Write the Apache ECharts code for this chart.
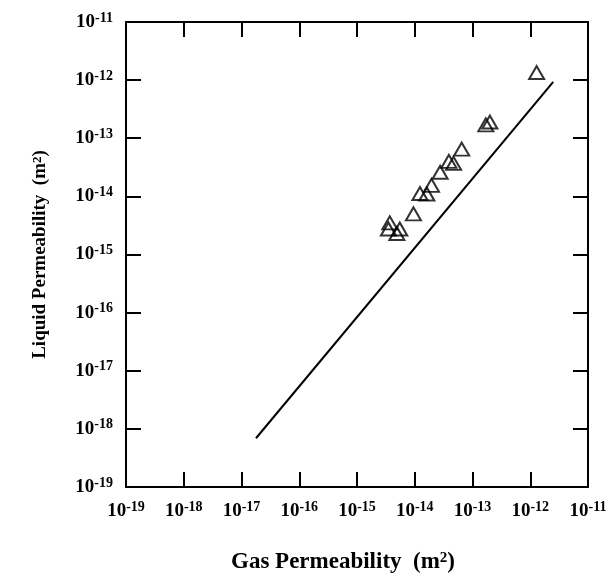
<!DOCTYPE html>
<html>
<head>
<meta charset="utf-8">
<script src="https://cdn.jsdelivr.net/npm/echarts@6/dist/echarts.min.js"></script>
<style>
  html, body { margin: 0; padding: 0; background: #ffffff; }
  #chart { width: 606px; height: 575px; }
</style>
</head>
<body>
<div id="chart"></div>
<script>
// measured points (m^2)
const gasPerm = [1.29e-12, 2.0e-13, 1.7e-13, 6.5e-14, 3.9e-14, 4.7e-14, 2.75e-14, 1.95e-14,
                 1.23e-14, 1.62e-14, 9.5e-15, 3.7e-15, 3.5e-15, 5.5e-15, 4.9e-15];
const liquidPerm = [1.35e-12, 1.9e-13, 1.7e-13, 6.5e-14, 4.0e-14, 3.7e-14, 2.6e-14, 1.55e-14,
                    1.12e-14, 1.1e-14, 5.0e-15, 3.5e-15, 2.75e-15, 2.75e-15, 2.3e-15];
// fitted line end points
const lineGas = [1.78e-17, 2.5e-12];
const lineLiquid = [6.9e-19, 9.3e-13];
// axis range (decades)
const axisMin = 1e-19;
const axisMax = 1e-11;

const serif = 'Liberation Serif';

const myChart = echarts.init(document.getElementById('chart'));

// 10 with superscript exponent
const powLabel = v => '{b|10}{s|' + Math.round(Math.log10(v)) + '}';
const labelRich = {
    b: { fontFamily: serif, fontSize: 19, fontWeight: 'bold', color: '#000', lineHeight: 22 },
    s: { fontFamily: serif, fontSize: 14, fontWeight: 'bold', color: '#000', verticalAlign: 'top', lineHeight: 15 }
};

const frameAxis = {
    type: 'log',
    logBase: 10,
    min: axisMin,
    max: axisMax,
    interval: 1,
    axisLine: { show: true, lineStyle: { color: '#000', width: 2 } },
    axisTick: { show: true, inside: true, length: 15, lineStyle: { color: '#000', width: 2 } },
    splitLine: { show: false },
    minorTick: { show: false }
};

const option = {
    backgroundColor: '#ffffff',
    animation: false,
    grid: { left: 126, right: 18, top: 22, bottom: 88, outerBoundsMode: 'none', containLabel: false },
    xAxis: [
        Object.assign({}, frameAxis, {
            position: 'bottom',
            axisLabel: { formatter: powLabel, rich: labelRich, margin: 13 },
            name: 'Gas Permeability  (m{s|2})',
            nameLocation: 'middle',
            nameGap: 64,
            nameTextStyle: {
                fontFamily: serif, fontSize: 23, fontWeight: 'bold', color: '#000',
                padding: [0, 28, 0, 0],
                rich: {
                    s: { fontFamily: serif, fontSize: 15, fontWeight: 'bold', color: '#000', verticalAlign: 'top', lineHeight: 12 }
                }
            }
        }),
        Object.assign({}, frameAxis, { position: 'top', axisLabel: { show: false } })
    ],
    yAxis: [
        Object.assign({}, frameAxis, {
            position: 'left',
            axisLabel: { formatter: powLabel, rich: labelRich, margin: 13 },
            name: 'Liquid Permeability  (m{s|2})',
            nameLocation: 'middle',
            nameRotate: 90,
            nameGap: 76,
            nameTextStyle: {
                fontFamily: serif, fontSize: 19, fontWeight: 'bold', color: '#000',
                rich: {
                    s: { fontFamily: serif, fontSize: 13, fontWeight: 'bold', color: '#000', verticalAlign: 'top', lineHeight: 10 }
                }
            }
        }),
        Object.assign({}, frameAxis, { position: 'right', axisLabel: { show: false } })
    ],
    series: [
        {
            name: 'fit',
            type: 'line',
            xAxisIndex: 0,
            yAxisIndex: 0,
            data: lineGas.map((g, i) => [g, lineLiquid[i]]),
            showSymbol: false,
            lineStyle: { color: '#000', width: 2 }
        },
        {
            name: 'data',
            type: 'scatter',
            xAxisIndex: 0,
            yAxisIndex: 0,
            data: gasPerm.map((g, i) => [g, liquidPerm[i]]),
            symbol: 'triangle',
            symbolSize: [15, 13],
            itemStyle: { color: 'rgba(0,0,0,0)', borderColor: '#000', borderWidth: 2 }
        }
    ]
};

myChart.setOption(option);
</script>
</body>
</html>
